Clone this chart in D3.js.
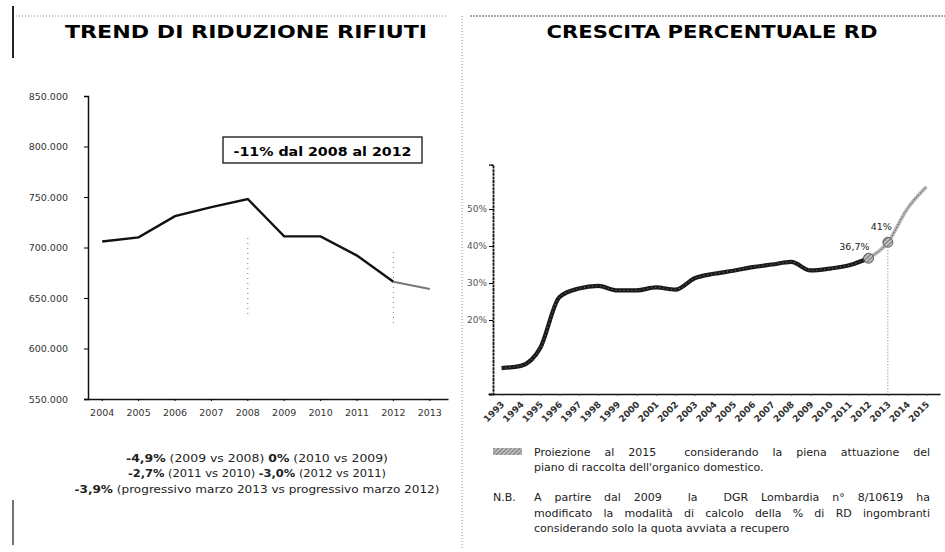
<!DOCTYPE html>
<html><head><meta charset="utf-8">
<script src="https://cdn.jsdelivr.net/npm/d3@7"></script>
<style>body{margin:0;background:#fff}svg{display:block}text{font-family:"DejaVu Sans",Verdana,sans-serif}</style>
</head><body><svg id="c" width="945" height="552"></svg>
<script>
// ---------- data ----------
const wasteYears = ["2004","2005","2006","2007","2008","2009","2010","2011","2012","2013"];
const wasteValues = [706000,710000,731000,740000,748000,711000,711000,692000,666000,659000];
const wasteTicks = [550000,600000,650000,700000,750000,800000,850000];
const wasteMarkedYears = ["2008","2012"];
const wasteBoxText = "-11% dal 2008 al 2012";
const wasteNotes = [
  [["-4,9%",true],[" (2009 vs 2008)  ",false],["0%",true],[" (2010 vs 2009)",false]],
  [["-2,7%",true],[" (2011 vs 2010) ",false],["-3,0%",true],[" (2012 vs 2011)",false]],
  [["-3,9%",true],[" (progressivo marzo 2013 vs progressivo marzo 2012)",false]]
];
const rdYears = ["1993","1994","1995","1996","1997","1998","1999","2000","2001","2002","2003","2004","2005","2006","2007","2008","2009","2010","2011","2012","2013","2014","2015"];
const rdValues = [7.0,7.6,12.4,26.2,28.5,29.2,28.0,28.0,28.8,28.2,31.3,32.5,33.3,34.3,35.0,35.7,33.4,33.9,34.8,36.7,41,50,56];
const rdProjectionFrom = "2012";
const rdTicks = [20,30,40,50];
const rdMarked = [{year:"2012", label:"36,7%"},{year:"2013", label:"41%"}];
const legendLines = [
  ["Proiezione al 2015  considerando la piena attuazione del", true],
  ["piano di raccolta dell'organico domestico.", false]
];
const nbLines = [
  ["A partire dal 2009  la  DGR Lombardia n° 8/10619 ha", true],
  ["modificato la modalità di calcolo della % di RD ingombranti", true],
  ["considerando solo la quota avviata a recupero", false]
];

const svg = d3.select("#c");
const defs = svg.append("defs");
const pat = defs.append("pattern").attr("id","hatch").attr("patternUnits","userSpaceOnUse")
  .attr("width",3).attr("height",3).attr("patternTransform","rotate(45)");
pat.append("rect").attr("width",3).attr("height",3).attr("fill","#bbb");
pat.append("line").attr("x1",0).attr("y1",0).attr("x2",0).attr("y2",3).attr("stroke","#555").attr("stroke-width",1.2);

function justify(t, width){
  t.style("white-space","pre");
  const txt = t.text();
  const n = (txt.match(/ /g)||[]).length;
  const w = t.node().getComputedTextLength();
  if (n>0 && w<width) t.attr("word-spacing", (width-w)/n);
}

// ---------- frame decorations ----------
svg.append("line").attr("x1",16).attr("x2",448).attr("y1",16).attr("y2",16)
  .attr("stroke","#888").attr("stroke-dasharray","1,2");
svg.append("line").attr("x1",470).attr("x2",945).attr("y1",16).attr("y2",16)
  .attr("stroke","#555").attr("stroke-dasharray","2,1");
svg.append("line").attr("x1",13).attr("x2",13).attr("y1",6).attr("y2",58)
  .attr("stroke","#222").attr("stroke-width",2);
svg.append("line").attr("x1",13).attr("x2",13).attr("y1",500).attr("y2",545)
  .attr("stroke","#444").attr("stroke-width",1.5);
svg.append("line").attr("x1",462).attr("x2",462).attr("y1",16).attr("y2",548)
  .attr("stroke","#999").attr("stroke-dasharray","1,2");

// ---------- titles ----------
svg.append("text").attr("x",246).attr("y",38).attr("text-anchor","middle")
  .attr("font-size",17).attr("font-weight","bold").attr("textLength",362).attr("lengthAdjust","spacingAndGlyphs")
  .text("TREND DI RIDUZIONE RIFIUTI");
svg.append("text").attr("x",712).attr("y",38).attr("text-anchor","middle")
  .attr("font-size",17).attr("font-weight","bold").attr("textLength",331).attr("lengthAdjust","spacingAndGlyphs")
  .text("CRESCITA PERCENTUALE RD");

// ---------- left chart ----------
const fmtLoc = d3.formatLocale({decimal:",",thousands:".",grouping:[3],currency:["",""]});
const fmt = fmtLoc.format(",.0f");
const xL = d3.scaleBand().domain(wasteYears).range([84,448]);
const yL = d3.scaleLinear().domain([550000,850000]).range([399,96]);

const gyL = svg.append("g").attr("transform","translate(88,0)")
  .call(d3.axisLeft(yL).tickValues(wasteTicks).tickFormat(fmt).tickSize(4).tickPadding(16));
gyL.selectAll("text").attr("font-size",9.5).attr("fill","#333").style("font-family","DejaVu Sans");
gyL.select(".domain").attr("stroke","#111").attr("stroke-width",1.5);
const gxL = svg.append("g").attr("transform","translate(0,399)")
  .call(d3.axisBottom(xL).tickSize(2).tickPadding(8).tickSizeOuter(0));
gxL.selectAll("text").attr("font-size",9.5).attr("fill","#333").style("font-family","DejaVu Sans");
gxL.select(".domain").attr("stroke","#111").attr("stroke-width",1.5);

wasteMarkedYears.forEach((yr,i)=>{
  const cx = xL(yr)+xL.bandwidth()/2;
  svg.append("line").attr("x1",cx).attr("x2",cx)
    .attr("y1",[238,252][i]).attr("y2",[318,325][i])
    .attr("stroke","#777").attr("stroke-dasharray","1,4");
});

const lineL = d3.line().x((d,i)=>xL(wasteYears[i])+xL.bandwidth()/2).y(d=>yL(d));
const solidCount = wasteValues.length-1;
svg.append("path").datum(wasteValues.slice(0,solidCount))
  .attr("d",lineL).attr("fill","none").attr("stroke","#111").attr("stroke-width",2.4);
const lineL2 = d3.line().x((d,i)=>xL(wasteYears[i+solidCount-1])+xL.bandwidth()/2).y(d=>yL(d));
svg.append("path").datum(wasteValues.slice(solidCount-1))
  .attr("d",lineL2).attr("fill","none").attr("stroke","#777").attr("stroke-width",2);

// annotation box
svg.append("rect").attr("x",223).attr("y",137).attr("width",199).attr("height",26)
  .attr("fill","#fff").attr("stroke","#111").attr("stroke-width",1.3);
svg.append("text").attr("x",322.5).attr("y",155.5).attr("text-anchor","middle")
  .attr("font-size",13).attr("font-weight","bold").attr("textLength",178).attr("lengthAdjust","spacingAndGlyphs")
  .text(wasteBoxText);

// notes
wasteNotes.forEach((parts,i)=>{
  const t = svg.append("text").attr("x",257).attr("y",[462,477,493][i]).attr("text-anchor","middle")
    .attr("font-size",10.5).attr("fill","#222");
  parts.forEach(p=>t.append("tspan").attr("font-weight",p[1]?"bold":"normal").text(p[0]));
  const target = [262,258,365][i];
  t.attr("textLength",target).attr("lengthAdjust","spacingAndGlyphs");
});

// ---------- right chart ----------
const xR = d3.scalePoint().domain(rdYears).range([488,940]).padding(0.7);
const yR = d3.scaleLinear().domain([0,62]).range([394,164.6]);

const gyR = svg.append("g").attr("transform","translate(493,0)")
  .call(d3.axisLeft(yR).tickValues(rdTicks).tickFormat(d=>d+"%").tickSize(4).tickPadding(2));
gyR.selectAll("text").attr("font-size",9).attr("fill","#555").style("font-family","DejaVu Sans");
gyR.select(".domain").attr("stroke","#111").attr("stroke-width",1.8).attr("stroke-dasharray","3,0.6");

const gxR = svg.append("g").attr("transform","translate(0,394)")
  .call(d3.axisBottom(xR).tickSize(2).tickSizeOuter(0));
gxR.select(".domain").attr("stroke","#111").attr("stroke-width",1.5);
gxR.selectAll(".tick line").attr("stroke","#555");
gxR.selectAll("text").attr("font-size",9).attr("fill","#333").style("font-family","DejaVu Sans")
  .attr("font-weight","bold")
  .attr("text-anchor","end").attr("dy",0).attr("y",0)
  .attr("transform","translate(3,11) rotate(-45)");

// dotted vertical at 2013
const m13 = rdMarked[1];
svg.append("line").attr("x1",xR(m13.year)).attr("x2",xR(m13.year))
  .attr("y1",yR(rdValues[rdYears.indexOf(m13.year)])+8).attr("y2",394)
  .attr("stroke","#777").attr("stroke-dasharray","1,2");

const lineR = d3.line().x(d=>xR(d.y)).y(d=>yR(d.v)).curve(d3.curveMonotoneX);
const rdPts = rdYears.map((y,i)=>({y, v: rdValues[i]}));
const pIdx = rdYears.indexOf(rdProjectionFrom);
const hist = rdPts.slice(0,pIdx+1), proj = rdPts.slice(pIdx);
svg.append("path").datum(proj).attr("d",lineR).attr("fill","none")
  .attr("stroke","#b5b5b5").attr("stroke-width",3.5);
svg.append("path").datum(proj).attr("d",lineR).attr("fill","none")
  .attr("stroke","#666").attr("stroke-width",1.2).attr("stroke-dasharray","1,2");
svg.append("path").datum(hist).attr("d",lineR).attr("fill","none")
  .attr("stroke","#1a1a1a").attr("stroke-width",4.2);
svg.append("path").datum(hist).attr("d",lineR).attr("fill","none")
  .attr("stroke","#777").attr("stroke-width",1).attr("stroke-dasharray","1,3");

rdMarked.forEach((m,i)=>{
  const v = rdValues[rdYears.indexOf(m.year)];
  svg.append("circle").attr("cx",xR(m.year)).attr("cy",yR(v)).attr("r",5)
    .attr("fill","url(#hatch)").attr("stroke","#444").attr("stroke-width",0.8);
  svg.append("text").attr("x",xR(m.year)+(i===0?1:4)).attr("y",yR(v)-[8,12][i])
    .attr("text-anchor","end").attr("font-size",9.5).attr("fill","#222").text(m.label);
});

// legend
svg.append("rect").attr("x",493).attr("y",448).attr("width",29).attr("height",7).attr("fill","url(#hatch)");
legendLines.forEach((l,i)=>{
  const t = svg.append("text").attr("x",534).attr("y",456+i*15).attr("font-size",11).attr("fill","#222").text(l[0]);
  if (l[1]) justify(t,396);
});
svg.append("text").attr("x",493).attr("y",501).attr("font-size",11).attr("fill","#222").text("N.B.");
nbLines.forEach((l,i)=>{
  const t = svg.append("text").attr("x",534).attr("y",501+i*15.5).attr("font-size",11).attr("fill","#222").text(l[0]);
  if (l[1]) justify(t,396);
});
</script></body></html>
